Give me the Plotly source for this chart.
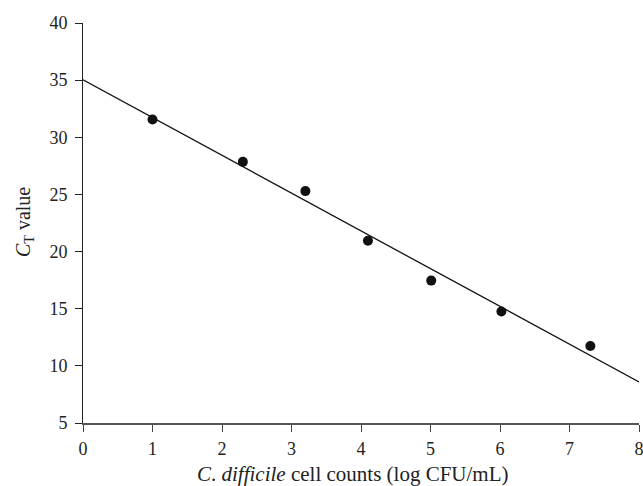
import numpy as np
import plotly.graph_objects as go

# Data
log_cfu = [1.00, 2.30, 3.20, 4.10, 5.01, 6.02, 7.30]
ct_value = [31.56, 27.85, 25.29, 20.94, 17.46, 14.75, 11.74]
fit_x = [0, 8]
x_ticks = [0, 1, 2, 3, 4, 5, 6, 7, 8]
y_ticks = [5, 10, 15, 20, 25, 30, 35, 40]
x_title = "<i>C</i>. <i>difficile</i> cell counts (log CFU/mL)"
y_title = "<i>C</i><sub>T</sub> value"

slope, intercept = np.polyfit(log_cfu, ct_value, 1)
fit_y = [slope * x + intercept for x in fit_x]

font_family = "Liberation Serif, DejaVu Serif, serif"
L, R, T, B = 83, 4, 23, 63
W, H = 643, 486
pw, ph = W - L - R, H - T - B

fig = go.Figure()
fig.add_trace(go.Scatter(x=fit_x, y=fit_y, mode="lines",
                         line=dict(color="#111111", width=1.3),
                         showlegend=False, cliponaxis=False))
fig.add_trace(go.Scatter(x=log_cfu, y=ct_value, mode="markers",
                         marker=dict(color="#111111", size=10),
                         showlegend=False, cliponaxis=False))

fig.update_layout(
    width=W, height=H,
    margin=dict(l=L, r=R, t=T, b=B, autoexpand=False),
    paper_bgcolor="white", plot_bgcolor="white",
    font=dict(family=font_family, size=18, color="#222222"),
    xaxis=dict(range=[0, 8], tickvals=x_ticks, ticks="outside", ticklen=7,
               tickcolor="#444444", tickwidth=1.3,
               showline=True, linecolor="#555555", linewidth=1.5,
               showgrid=False, zeroline=False, automargin=False,
               ticklabelstandoff=2, ticklabeloverflow="allow"),
    yaxis=dict(range=[5, 40], tickvals=y_ticks, ticks="outside", ticklen=7,
               tickcolor="#222222", tickwidth=1,
               showline=True, linecolor="#222222", linewidth=1,
               showgrid=False, zeroline=False, automargin=False,
               ticklabelstandoff=4, ticklabeloverflow="allow"),
    annotations=[
        dict(text=x_title, xref="paper", yref="paper",
             x=(352 - L) / pw, y=-(474 - (H - B)) / ph,
             xanchor="center", yanchor="middle", showarrow=False,
             font=dict(size=21, family=font_family, color="#222222")),
        dict(text=y_title, xref="paper", yref="paper",
             x=(24 - L) / pw, y=((H - B) - 222) / ph,
             xanchor="center", yanchor="middle", showarrow=False, textangle=-90,
             font=dict(size=20, family=font_family, color="#222222")),
    ],
)

fig.write_html("out.html", config={"displayModeBar": False},
               post_script="document.body.style.margin='0';document.body.style.padding='0';")
